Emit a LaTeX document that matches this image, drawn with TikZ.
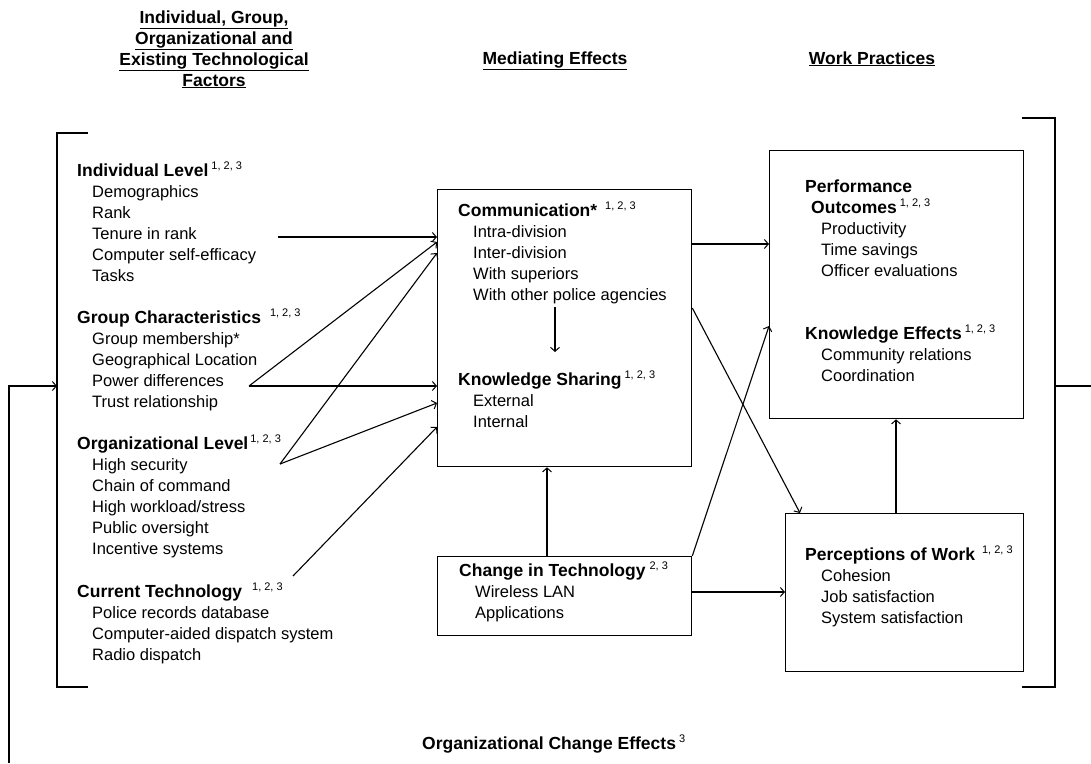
\documentclass[tikz,border=0pt]{standalone}
\usepackage{fontspec}
\setmainfont{Liberation Sans}
\usetikzlibrary{arrows.meta,calc}
\newcommand\mysup[1]{\raisebox{6.5pt}{\fontsize{11}{11}\selectfont\mdseries #1}}
\tikzset{
  itm/.style={anchor=base west,inner sep=0pt,font=\fontsize{16.5}{21}\selectfont},
  ttl/.style={anchor=base west,inner sep=0pt,font=\fontsize{17.5}{21}\selectfont\bfseries},
  hdr/.style={anchor=base,inner sep=0pt,font=\fontsize{17.5}{21}\selectfont\bfseries},
  box/.style={draw,line width=1.3pt,inner sep=0pt,anchor=north west},
  ln/.style={line width=1.1pt},
  arr/.style={line width=1.1pt,-{Straight Barb[length=4pt,width=9pt,line width=1pt]}}
}
\begin{document}
\begin{tikzpicture}[x=1pt,y=-1pt]
\useasboundingbox (0,0) rectangle (1091,763);

% headers
\node[hdr] (h1) at (214,23) {\underline{Individual, Group,}};
\node[hdr] (h2) at (214,44) {\underline{Organizational and}};
\node[hdr] (h3) at (214,65) {\underline{Existing Technological}};
\node[hdr] (h4) at (214,86) {\underline{Factors}};
\node[hdr] (h5) at (555,64) {\underline{Mediating Effects}};
\node[hdr] (h6) at (872,64) {\underline{Work Practices}};

% brackets
\draw[line width=1.3pt] (88,133) coordinate (lbt) -- (57,133) -- (57,687) -- (88,687) coordinate (lbb);
\draw[line width=1.3pt] (1022,118) coordinate (rbt) -- (1055,118) -- (1055,687) -- (1022,687) coordinate (rbb);
\coordinate (lbr) at (57,386);
\coordinate (rbr) at (1055,386);

% left column
\node[ttl] (indT) at (77,176) {Individual Level\hspace{3pt}\mysup{1, 2, 3}};
\foreach \t [count=\i from 1] in {Demographics,Rank,Tenure in rank,Computer self-efficacy,Tasks}
  \node[itm] (ind\i) at (92,176+21*\i) {\t};
\node[ttl] (grpT) at (77,323) {Group Characteristics\hspace{9pt}\mysup{1, 2, 3}};
\foreach \t [count=\i from 1] in {Group membership*,Geographical Location,Power differences,Trust relationship}
  \node[itm] (grp\i) at (92,323+21*\i) {\t};
\node[ttl] (orgT) at (77,449) {Organizational Level\hspace{2pt}\mysup{1, 2, 3}};
\foreach \t [count=\i from 1] in {High security,Chain of command,High workload/stress,Public oversight,Incentive systems}
  \node[itm] (org\i) at (92,449+21*\i) {\t};
\node[ttl] (curT) at (77,597) {Current Technology\hspace{10pt}\mysup{1, 2, 3}};
\foreach \t [count=\i from 1] in {Police records database,Computer-aided dispatch system,Radio dispatch}
  \node[itm] (cur\i) at (92,597+21*\i) {\t};

% boxes
\node[box,minimum width=254pt,minimum height=277pt] (comm) at (437,189) {};
\node[box,minimum width=254pt,minimum height=79pt] (chg) at (437,556) {};
\node[box,minimum width=254pt,minimum height=268pt] (perf) at (769,150) {};
\node[box,minimum width=238pt,minimum height=158pt] (perc) at (785,513) {};

% communication box text
\node[ttl] (comT) at (458,216) {Communication*\hspace{8pt}\mysup{1, 2, 3}};
\foreach \t [count=\i from 1] in {Intra-division,Inter-division,With superiors,With other police agencies}
  \node[itm] (com\i) at (473,216+21*\i) {\t};
\node[ttl] (ksT) at (458,385) {Knowledge Sharing\hspace{3pt}\mysup{1, 2, 3}};
\node[itm] (ks1) at (473,406) {External};
\node[itm] (ks2) at (473,427) {Internal};

% change in technology
\node[ttl] (chT) at (459,576) {Change in Technology\hspace{4pt}\mysup{2, 3}};
\node[itm] (ch1) at (475,597) {Wireless LAN};
\node[itm] (ch2) at (475,618) {Applications};

% performance box
\node[ttl] (pfT1) at (805,192) {Performance};
\node[ttl] (pfT2) at (811,213) {Outcomes\hspace{3pt}\mysup{1, 2, 3}};
\foreach \t [count=\i from 1] in {Productivity,Time savings,Officer evaluations}
  \node[itm] (pf\i) at (821,213+21*\i) {\t};
\node[ttl] (keT) at (805,339) {Knowledge Effects\hspace{3pt}\mysup{1, 2, 3}};
\node[itm] (ke1) at (821,360) {Community relations};
\node[itm] (ke2) at (821,381) {Coordination};

% perceptions box
\node[ttl] (pwT) at (805,560) {Perceptions of Work\hspace{7pt}\mysup{1, 2, 3}};
\foreach \t [count=\i from 1] in {Cohesion,Job satisfaction,System satisfaction}
  \node[itm] (pw\i) at (821,560+21*\i) {\t};

% bottom label
\node[ttl] (oce) at (422,749) {Organizational Change Effects\hspace{3pt}\mysup{3}};

% connector start points
\coordinate (tenS) at (278,237);
\coordinate (powS) at (249,386);
\coordinate (orgS) at (280,464);
\coordinate (curS) at (293,576);
\coordinate (ci1) at (555,307);
\coordinate (ci2) at (555,352);
\coordinate (fbot) at (9,763);
\coordinate (rend) at (1091,386);

% connectors into communication
\draw[arr] (tenS) -- (tenS -| comm.west);
\draw[arr] (powS) -- ($(comm.north west)+(0,53)$);
\draw[arr] (powS) -- (powS -| comm.west);
\draw[arr] (orgS) -- ($(comm.north west)+(0,64)$);
\draw[arr] (orgS) -- ($(comm.north west)+(0,214)$);
\draw[arr] (curS) -- ($(comm.north west)+(0,238)$);
\draw[arr] (ci1) -- (ci2);

% middle to right
\draw[arr] ($(comm.north east)+(0,55)$) -- ($(perf.north west)+(0,94)$);
\draw[arr] ($(comm.north east)+(0,119)$) -- ($(perc.north west)+(15,0)$);
\draw[arr] (chg.north east) -- ($(perf.north west)+(0,176)$);
\draw[arr] ($(chg.north west)+(110,0)$) -- ($(comm.south west)+(110,0)$);
\draw[arr] ($(chg.north east)+(0,36)$) -- ($(perc.north west)+(0,79)$);
\draw[arr] ($(perc.north west)+(111,0)$) -- ($(perf.south west)+(127,0)$);

% feedback
\draw[ln] (rbr) -- (rend);
\draw[arr] (fbot) -- (fbot |- lbr) -- (lbr);
\end{tikzpicture}
\end{document}
